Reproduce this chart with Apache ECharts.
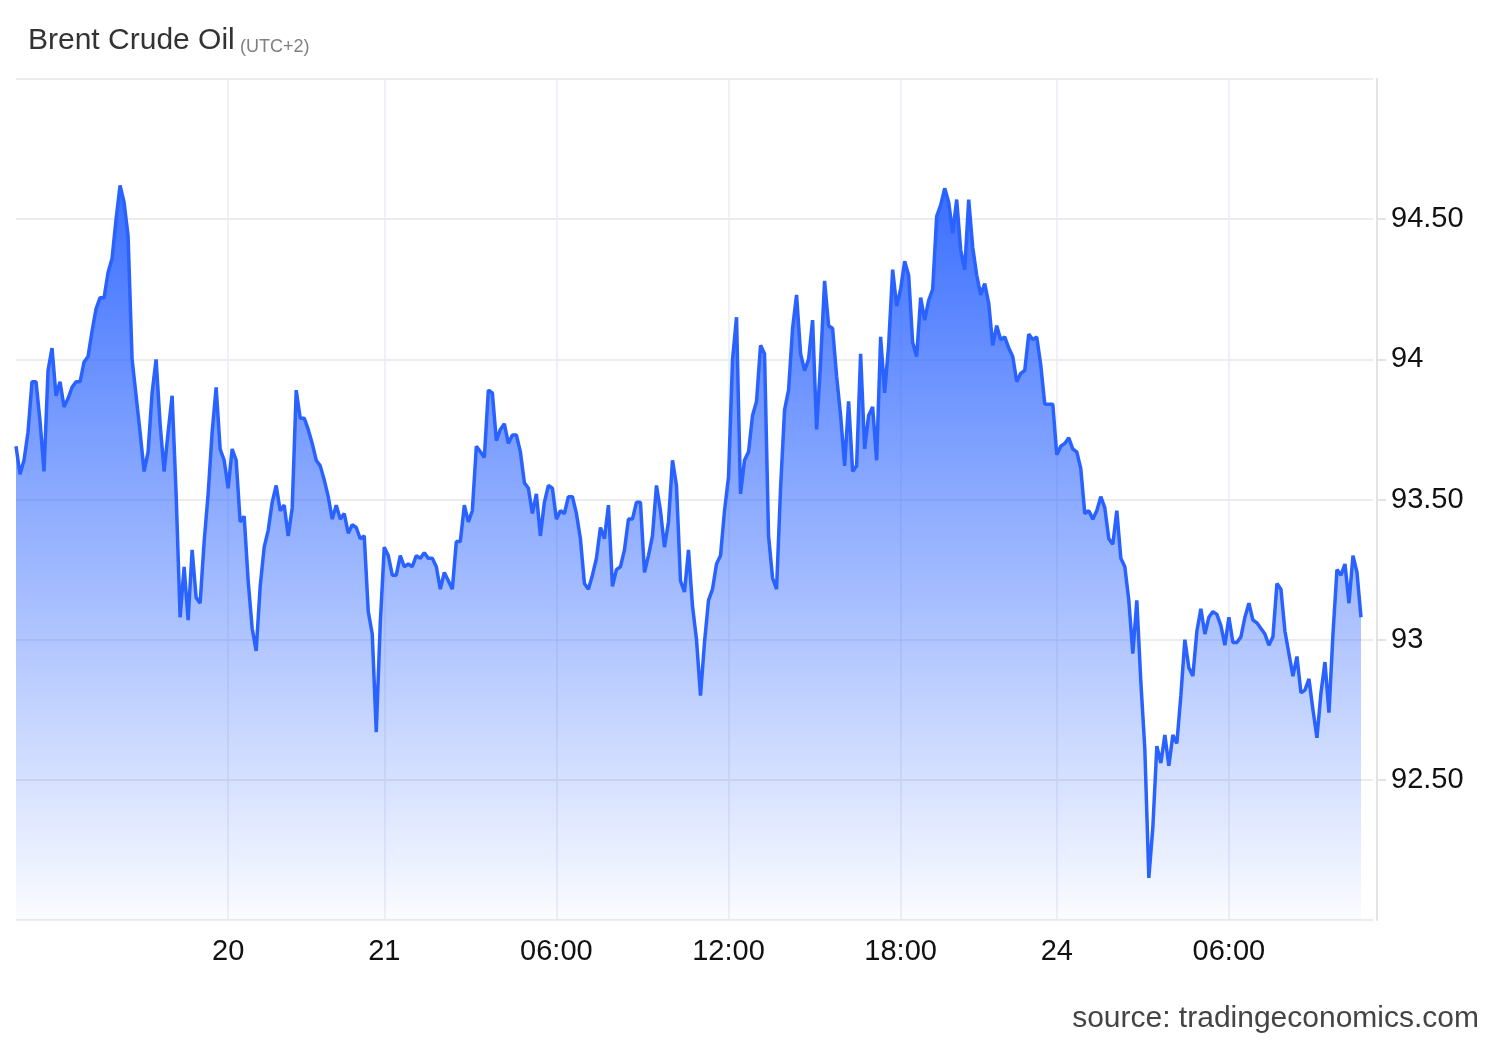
<!DOCTYPE html>
<html>
<head>
<meta charset="utf-8">
<title>Brent Crude Oil</title>
<style>
  html, body { margin: 0; padding: 0; background: #fff; }
  #chart { width: 1500px; height: 1040px; }
</style>
</head>
<body>
<div id="chart"></div>
<script src="https://cdn.jsdelivr.net/npm/echarts@6/dist/echarts.min.js"></script>
<script>
// time axis labels and the slot each one sits on
var tickLabels = ['20', '21', '06:00', '12:00', '18:00', '24', '06:00'];
var tickIndex = [53, 92, 135, 178, 221, 260, 303];
var slotCount = 340;

// price axis
var yMin = 92, yMax = 95, yStep = 0.5;

// prices, one array per session block
var prices19 = [93.69, 93.59, 93.64, 93.74, 93.92, 93.92, 93.78, 93.60, 93.96, 94.04,
  93.87, 93.92, 93.83, 93.86, 93.90, 93.92, 93.92, 93.99, 94.01, 94.10,
  94.18, 94.22, 94.22, 94.31, 94.36, 94.50, 94.62, 94.56, 94.44, 94.00,
  93.87, 93.74, 93.60, 93.67, 93.88, 94.00, 93.77, 93.60, 93.74, 93.87,
  93.52, 93.08, 93.26, 93.07, 93.32, 93.15, 93.13, 93.35, 93.52, 93.74,
  93.90, 93.68, 93.64];
var prices20 = [93.54, 93.68, 93.64, 93.42, 93.44, 93.21, 93.04, 92.96, 93.19, 93.33,
  93.39, 93.49, 93.55, 93.46, 93.48, 93.37, 93.47, 93.89, 93.79, 93.79,
  93.75, 93.70, 93.64, 93.62, 93.57, 93.51, 93.43, 93.48, 93.43, 93.45,
  93.38, 93.41, 93.40, 93.36, 93.37, 93.10, 93.02, 92.67, 93.06];
var prices21a = [93.33, 93.30, 93.23, 93.23, 93.30, 93.26, 93.27, 93.26, 93.30, 93.29,
  93.31, 93.29, 93.29, 93.26, 93.18, 93.24, 93.21, 93.18, 93.35, 93.35,
  93.48, 93.42, 93.46, 93.69, 93.67, 93.65, 93.89, 93.88, 93.71, 93.75,
  93.77, 93.70, 93.73, 93.73, 93.67, 93.56, 93.54, 93.45, 93.52, 93.37,
  93.49, 93.55, 93.54];
var prices21b = [93.43, 93.46, 93.45, 93.51, 93.51, 93.45, 93.36, 93.20, 93.18, 93.23,
  93.29, 93.40, 93.36, 93.48, 93.19, 93.25, 93.26, 93.32, 93.43, 93.43,
  93.49, 93.49, 93.24, 93.30, 93.37, 93.55, 93.46, 93.33, 93.42, 93.64,
  93.55, 93.21, 93.17, 93.32, 93.12, 93.00, 92.80, 92.99, 93.14, 93.18,
  93.27, 93.30, 93.46];
var prices21c = [93.58, 94.00, 94.15, 93.52, 93.64, 93.67, 93.80, 93.85, 94.05, 94.02,
  93.37, 93.22, 93.18, 93.54, 93.82, 93.89, 94.11, 94.23, 94.02, 93.96,
  94.00, 94.14, 93.75, 93.99, 94.28, 94.12, 94.11, 93.94, 93.80, 93.62,
  93.85, 93.60, 93.62, 94.02, 93.68, 93.80, 93.83, 93.64, 94.08, 93.88,
  94.05, 94.32, 94.19];
var prices21d = [94.25, 94.35, 94.30, 94.06, 94.01, 94.22, 94.14, 94.21, 94.25, 94.51,
  94.55, 94.61, 94.56, 94.45, 94.57, 94.39, 94.32, 94.57, 94.40, 94.30,
  94.23, 94.27, 94.20, 94.05, 94.12, 94.07, 94.08, 94.04, 94.01, 93.92,
  93.95, 93.96, 94.09, 94.07, 94.08, 93.98, 93.84, 93.84, 93.84];
var prices24a = [93.66, 93.69, 93.70, 93.72, 93.68, 93.67, 93.61, 93.45, 93.46, 93.43,
  93.46, 93.51, 93.47, 93.36, 93.34, 93.46, 93.29, 93.26, 93.14, 92.95,
  93.14, 92.85, 92.61, 92.15, 92.33, 92.62, 92.56, 92.66, 92.55, 92.66,
  92.63, 92.80, 93.00, 92.90, 92.87, 93.03, 93.11, 93.02, 93.08, 93.10,
  93.09, 93.05, 92.98];
var prices24b = [93.08, 92.99, 92.99, 93.01, 93.08, 93.13, 93.07, 93.06, 93.04, 93.02,
  92.98, 93.01, 93.20, 93.18, 93.03, 92.95, 92.87, 92.94, 92.81, 92.82,
  92.86, 92.75, 92.65, 92.81, 92.92, 92.74, 93.02, 93.25, 93.23, 93.27,
  93.13, 93.30, 93.24, 93.08];

var prices = [].concat(prices19, prices20, prices21a, prices21b, prices21c, prices21d, prices24a, prices24b);

var slots = [];
for (var i = 0; i < slotCount; i++) slots.push(String(i));

function isTick(index) {
    return tickIndex.indexOf(index) !== -1;
}

var font = "'Liberation Sans', Arial, sans-serif";
var chart = echarts.init(document.getElementById('chart'));
chart.setOption({
    animation: false,
    title: [
        {
            text: 'Brent Crude Oil',
            left: 23,
            top: 21,
            textStyle: { fontFamily: font, fontSize: 30, fontWeight: 'normal', color: '#333' }
        },
        {
            text: '(UTC+2)',
            left: 235,
            top: 33,
            textStyle: { fontFamily: font, fontSize: 18, fontWeight: 'normal', color: '#808080' }
        },
        {
            text: 'source: tradingeconomics.com',
            right: 16,
            top: 999,
            textStyle: { fontFamily: font, fontSize: 30, fontWeight: 'normal', color: '#444' }
        }
    ],
    grid: { left: 16, right: 127, top: 79, bottom: 120 },
    xAxis: {
        type: 'category',
        data: slots,
        boundaryGap: false,
        axisLine: { show: false },
        axisTick: { show: false },
        axisLabel: {
            interval: function (index) { return isTick(index); },
            formatter: function (value, index) { return tickLabels[tickIndex.indexOf(index)] || ''; },
            fontFamily: font,
            fontSize: 29,
            color: '#111',
            margin: 17
        },
        splitLine: {
            show: true,
            interval: function (index) { return isTick(index); },
            lineStyle: { color: '#e8edf5', width: 1.5 }
        }
    },
    yAxis: {
        type: 'value',
        position: 'right',
        offset: 4,
        min: yMin,
        max: yMax,
        interval: yStep,
        axisLine: { show: true, lineStyle: { color: '#e3e3e3', width: 2 } },
        axisTick: { show: true, length: 9, lineStyle: { color: '#e3e3e3', width: 2 } },
        axisLabel: {
            showMinLabel: false,
            showMaxLabel: false,
            margin: 14,
            fontFamily: font,
            fontSize: 29,
            color: '#111',
            formatter: function (v) { return v % 1 === 0 ? String(v) : v.toFixed(2); }
        },
        splitLine: { lineStyle: { color: '#e6e6e6', width: 1.5 } }
    },
    series: [
        {
            type: 'line',
            data: prices,
            showSymbol: false,
            lineStyle: { color: '#2962ff', width: 3.5 },
            itemStyle: { color: '#2962ff' },
            areaStyle: {
                opacity: 1,
                color: new echarts.graphic.LinearGradient(0, 0, 0, 1, [
                    { offset: 0, color: 'rgba(41,98,255,0.92)' },
                    { offset: 1, color: 'rgba(41,98,255,0.02)' }
                ])
            }
        }
    ]
});
window.addEventListener('resize', function () { chart.resize(); });
</script>
</body>
</html>
